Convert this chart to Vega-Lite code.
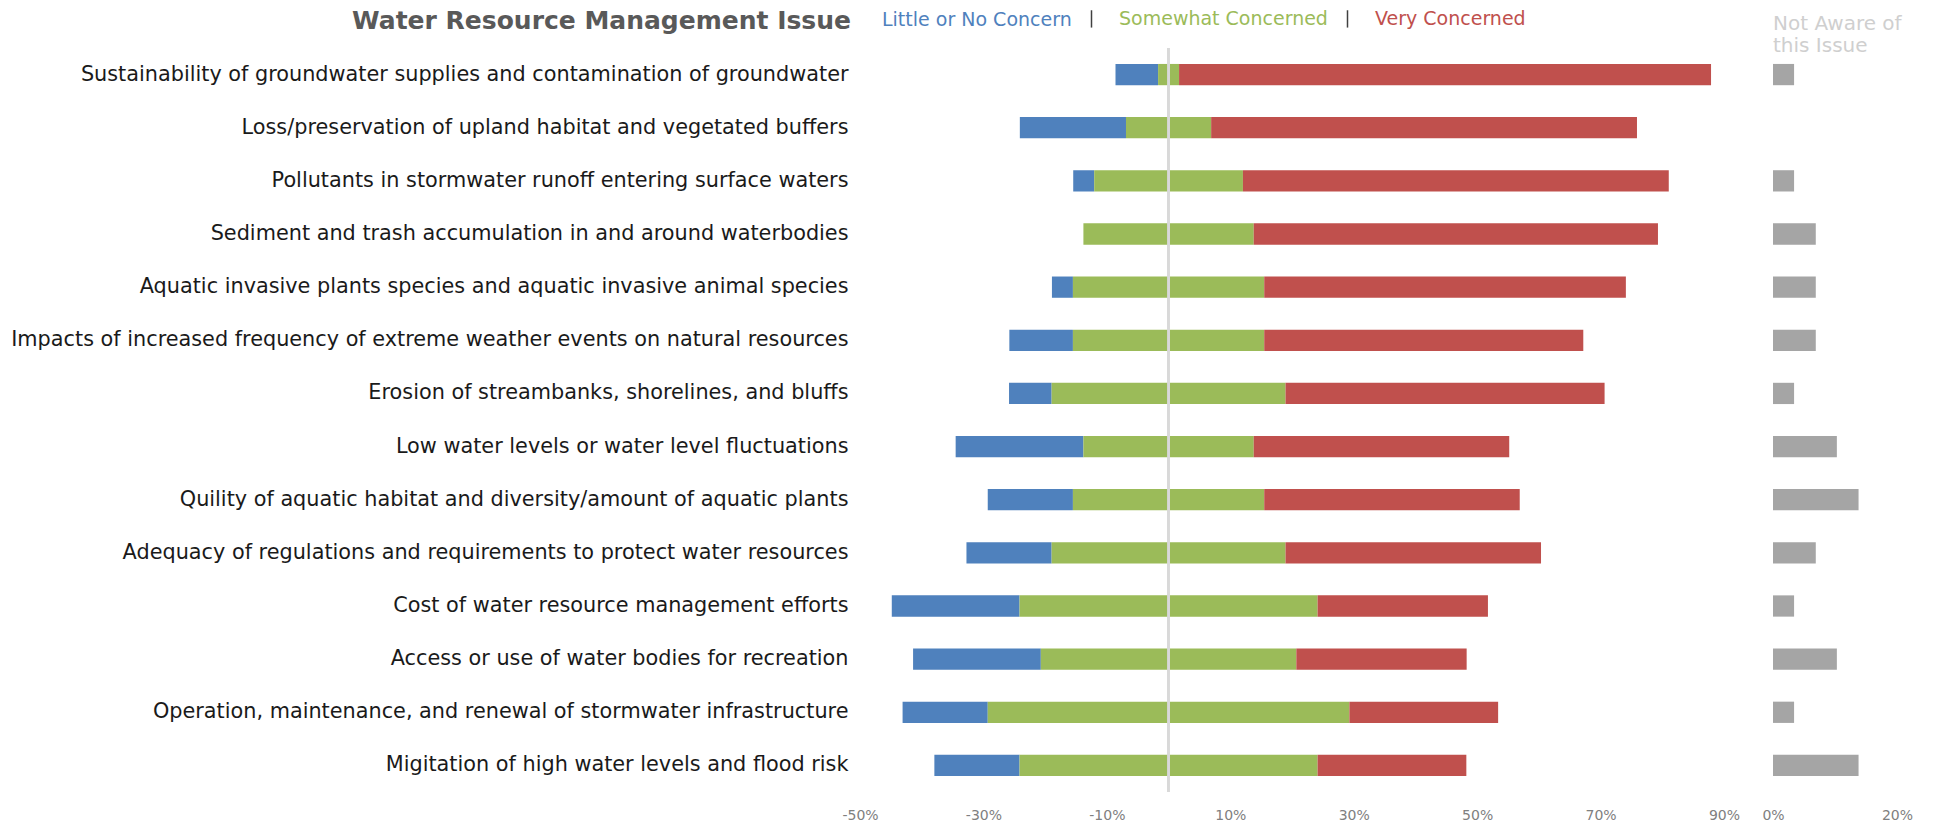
{
  "$schema": "https://vega.github.io/schema/vega-lite/v6.json",
  "background": "white",
  "padding": {"left": 10, "top": 9, "right": 10, "bottom": 4},
  "bounds": "flush",
  "spacing": 49,
  "config": {
    "view": {"stroke": null},
    "font": "DejaVu Sans",
    "axis": {"grid": false, "domain": false, "ticks": false}
  },
  "data": {
    "values": [
      {"issue": "Sustainability of groundwater supplies and contamination of groundwater", "little": 6.9, "somewhat": 3.4, "very": 86.2, "notaware": 3.4},
      {"issue": "Loss/preservation of upland habitat and vegetated buffers", "little": 17.2, "somewhat": 13.8, "very": 69.0, "notaware": 0},
      {"issue": "Pollutants in stormwater runoff entering surface waters", "little": 3.4, "somewhat": 24.1, "very": 69.0, "notaware": 3.4},
      {"issue": "Sediment and trash accumulation in and around waterbodies", "little": 0, "somewhat": 27.6, "very": 65.5, "notaware": 6.9},
      {"issue": "Aquatic invasive plants species and aquatic invasive animal species", "little": 3.4, "somewhat": 31.0, "very": 58.6, "notaware": 6.9},
      {"issue": "Impacts of increased frequency of extreme weather events on natural resources", "little": 10.3, "somewhat": 31.0, "very": 51.7, "notaware": 6.9},
      {"issue": "Erosion of streambanks, shorelines, and bluffs", "little": 6.9, "somewhat": 37.9, "very": 51.7, "notaware": 3.4},
      {"issue": "Low water levels or water level fluctuations", "little": 20.7, "somewhat": 27.6, "very": 41.4, "notaware": 10.3},
      {"issue": "Quility of aquatic habitat and diversity/amount of aquatic plants", "little": 13.8, "somewhat": 31.0, "very": 41.4, "notaware": 13.8},
      {"issue": "Adequacy of regulations and requirements to protect water resources", "little": 13.8, "somewhat": 37.9, "very": 41.4, "notaware": 6.9},
      {"issue": "Cost of water resource management efforts", "little": 20.7, "somewhat": 48.3, "very": 27.6, "notaware": 3.4},
      {"issue": "Access or use of water bodies for recreation", "little": 20.7, "somewhat": 41.4, "very": 27.6, "notaware": 10.3},
      {"issue": "Operation, maintenance, and renewal of stormwater infrastructure", "little": 13.8, "somewhat": 58.6, "very": 24.1, "notaware": 3.4},
      {"issue": "Migitation of high water levels and flood risk", "little": 13.8, "somewhat": 48.3, "very": 24.1, "notaware": 13.8}
    ]
  },
  "hconcat": [
    {
      "width": 864,
      "height": 744,
      "title": {
        "text": "Water Resource Management Issue",
        "anchor": "start",
        "frame": "group",
        "align": "right",
        "dx": -9,
        "offset": 13,
        "font": "DejaVu Sans",
        "fontSize": 25,
        "fontWeight": "bold",
        "color": "#595959"
      },
      "transform": [
        {"calculate": "-datum.little - datum.somewhat / 2", "as": "lo0"},
        {"calculate": "-datum.somewhat / 2", "as": "lo1"},
        {"calculate": "datum.somewhat / 2", "as": "hi0"},
        {"calculate": "datum.somewhat / 2 + datum.very", "as": "hi1"}
      ],
      "encoding": {
        "y": {
          "field": "issue",
          "type": "nominal",
          "sort": null,
          "title": null,
          "scale": {"paddingInner": 0.6, "paddingOuter": 0.3},
          "axis": {
            "labelFont": "DejaVu Sans",
            "labelFontSize": 20.8,
            "labelColor": "#1a1a1a",
            "labelPadding": 12,
            "labelLimit": 1000,
            "minExtent": 850,
            "maxExtent": 850
          }
        }
      },
      "layer": [
        {
          "mark": {"type": "bar"},
          "encoding": {
            "x": {
              "field": "lo0",
              "type": "quantitative",
              "scale": {"domain": [-50, 90], "nice": false, "zero": false},
              "title": null,
              "axis": {
                "values": [-50, -30, -10, 10, 30, 50, 70, 90],
                "labelExpr": "datum.value + '%'",
                "labelFlush": false,
                "labelOverlap": false,
                "labelFont": "DejaVu Sans",
                "labelFontSize": 14,
                "labelColor": "#808080",
                "labelPadding": 16
              }
            },
            "x2": {"field": "lo1"},
            "color": {
              "datum": "Little or No Concern",
              "type": "nominal",
              "scale": {
                "domain": ["Little or No Concern", "Somewhat Concerned", "Very Concerned"],
                "range": ["#4f81bd", "#9bbb59", "#c0504d"]
              },
              "legend": {
                "title": null,
                "orient": "none",
                "direction": "horizontal",
                "legendX": -15,
                "legendY": -39,
                "symbolType": "M0,-1L0,1",
                "symbolSize": 300,
                "symbolStrokeWidth": 1.5,
                "labelOffset": 18,
                "columnPadding": 10,
                "labelLimit": 500,
                "labelFont": "DejaVu Sans",
                "labelFontSize": 19,
                "encode": {
                  "labels": {"update": {"fill": {"scale": "color", "field": "value"}}},
                  "symbols": {"update": {
                    "stroke": {"value": "#404040"},
                    "fill": {"value": "transparent"},
                    "opacity": {"signal": "datum.value === 'Little or No Concern' ? 0 : 1"}
                  }}
                }
              }
            }
          }
        },
        {
          "mark": {"type": "bar"},
          "encoding": {
            "x": {"field": "lo1", "type": "quantitative"},
            "x2": {"field": "hi0"},
            "color": {"datum": "Somewhat Concerned", "type": "nominal"}
          }
        },
        {
          "mark": {"type": "bar"},
          "encoding": {
            "x": {"field": "hi0", "type": "quantitative"},
            "x2": {"field": "hi1"},
            "color": {"datum": "Very Concerned", "type": "nominal"}
          }
        },
        {
          "mark": {"type": "rule", "color": "#d9d9d9", "strokeWidth": 1.5},
          "encoding": {"x": {"datum": 0, "type": "quantitative"}, "y": {"value": 0}, "y2": {"value": 744}}
        }
      ]
    },
    {
      "width": 124,
      "height": 744,
      "title": {
        "text": ["Not Aware of", "this Issue"],
        "anchor": "start",
        "frame": "group",
        "align": "left",
        "offset": -8,
        "font": "DejaVu Sans",
        "fontSize": 20,
        "fontWeight": "normal",
        "lineHeight": 22,
        "color": "#cfcfcf"
      },
      "mark": {"type": "bar", "color": "#a5a5a5"},
      "encoding": {
        "y": {
          "field": "issue",
          "type": "nominal",
          "sort": null,
          "title": null,
          "scale": {"paddingInner": 0.6, "paddingOuter": 0.3},
          "axis": null
        },
        "x": {
          "field": "notaware",
          "type": "quantitative",
          "scale": {"domain": [0, 20], "nice": false},
          "title": null,
          "axis": {
            "values": [0, 20],
            "labelExpr": "datum.value + '%'",
            "labelFlush": false,
            "labelOverlap": false,
            "labelFont": "DejaVu Sans",
            "labelFontSize": 14,
            "labelColor": "#808080",
            "labelPadding": 16
          }
        }
      }
    }
  ]
}
